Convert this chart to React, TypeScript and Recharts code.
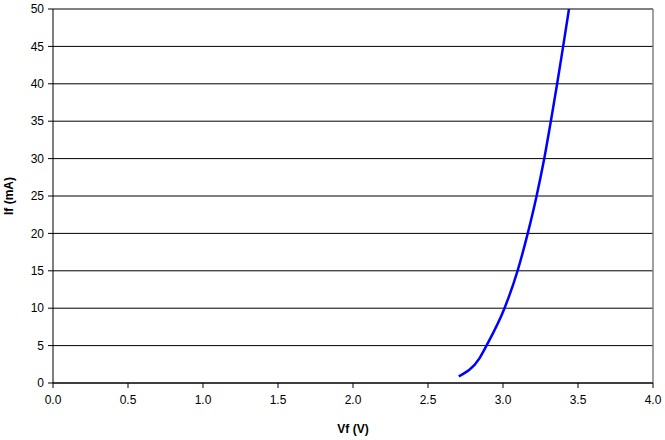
import { CartesianGrid, Line, LineChart, ReferenceLine, XAxis, YAxis } from "recharts";

const vf = [2.705, 2.843, 2.89, 3.01, 3.097, 3.165, 3.224, 3.275, 3.319, 3.361, 3.401, 3.44];
const ifMa = [0.9, 3.3, 5, 10, 15, 20, 25, 30, 35, 40, 45, 50];
const xTicks = [0, 0.5, 1, 1.5, 2, 2.5, 3, 3.5, 4];
const yTicks = [0, 5, 10, 15, 20, 25, 30, 35, 40, 45, 50];

const data = vf.map((v, i) => ({ vf: v, current: ifMa[i] }));

const font = "'Liberation Sans', Arial, sans-serif";

export default function App() {
  return (
    <div style={{ position: "absolute", left: 0, top: 0, fontFamily: font }}>
      <LineChart width={665} height={440} data={data} margin={{ top: 9, right: 12, left: 0, bottom: 0 }}>
        <CartesianGrid vertical={false} stroke="#000" strokeWidth={1} />
        <XAxis
          dataKey="vf"
          type="number"
          domain={[0, 4]}
          ticks={xTicks}
          tickFormatter={(v: number) => v.toFixed(1)}
          height={57}
          stroke="#000"
          tickSize={5}
          tickMargin={7}
          tick={{ fill: "#000", fontSize: 12, fontFamily: font }}
          label={{ value: "Vf (V)", position: "insideBottom", offset: 7, fill: "#000", fontSize: 12, fontWeight: "bold", fontFamily: font }}
        />
        <YAxis
          type="number"
          domain={[0, 50]}
          ticks={yTicks}
          width={53}
          stroke="#000"
          tickSize={5}
          tickMargin={4}
          tick={{ fill: "#000", fontSize: 12, fontFamily: font }}
          label={{ value: "If (mA)", angle: -90, position: "insideLeft", offset: 9, fill: "#000", fontSize: 12, fontWeight: "bold", fontFamily: font, style: { textAnchor: "middle" } }}
        />
        <ReferenceLine x={4} stroke="#808080" strokeWidth={1.5} />
        <Line
          dataKey="current"
          type="monotone"
          stroke="#0000FF"
          strokeWidth={2.5}
          dot={false}
          isAnimationActive={false}
        />
      </LineChart>
    </div>
  );
}
